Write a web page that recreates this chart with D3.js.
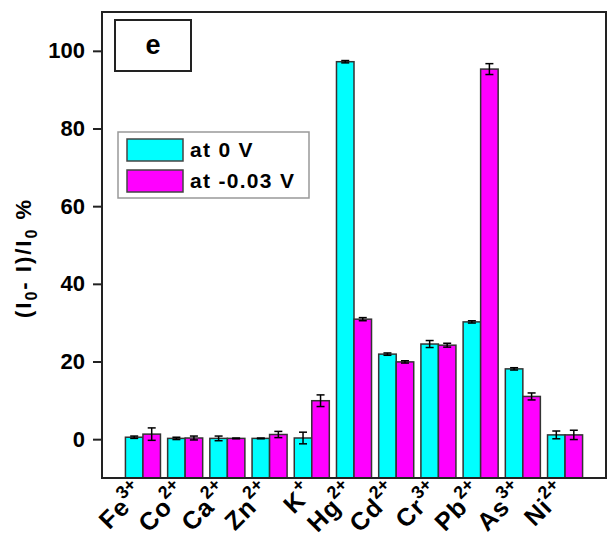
<!DOCTYPE html>
<html>
<head>
<meta charset="utf-8">
<script src="https://cdn.jsdelivr.net/npm/d3@7"></script>
<style>
  body { margin: 0; background: #fff; }
  svg { font-family: "Liberation Sans", Arial, sans-serif; font-weight: bold; }
</style>
</head>
<body>
<svg width="609" height="540"></svg>
<script>
// ions on the x axis and their charges (drawn as superscripts)
var ions = ['Fe', 'Co', 'Ca', 'Zn', 'K', 'Hg', 'Cd', 'Cr', 'Pb', 'As', 'Ni'];
var charges = ['3+', '2+', '2+', '2+', '+', '2+', '2+', '3+', '2+', '3+', '2+'];
// (I0 - I)/I0 %
var at0V = [0.5, 0.2, 0.2, 0.2, 0.3, 97.2, 21.9, 24.5, 30.2, 18.1, 1.1];
var err0V = [0.3, 0.3, 0.6, 0.1, 1.5, 0.3, 0.3, 0.9, 0.3, 0.3, 1.0];
var atNeg = [1.3, 0.3, 0.2, 1.2, 9.9, 30.9, 19.9, 24.2, 95.3, 11.0, 1.1];
var errNeg = [1.6, 0.5, 0.1, 0.8, 1.5, 0.4, 0.3, 0.5, 1.4, 0.9, 1.2];
var seriesNames = ['at 0 V', 'at -0.03 V'];
var seriesColors = ['#00ffff', '#ff00ff'];
var yTicks = [0, 20, 40, 60, 80, 100];

var svg = d3.select('svg');
var plotL = 102, plotR = 606, plotT = 12, plotB = 478;

var x = d3.scaleBand().domain(ions).range([plotL, plotR])
  .paddingInner(0.17).paddingOuter(0.555);
var x1 = d3.scaleBand().domain([0, 1]).range([0, x.bandwidth()]);
var y = d3.scaleLinear().domain([-10, 110]).range([plotB, plotT]);

var rows = ions.map(function(ion, i) {
  return {ion: ion, vals: [
    {s: 0, v: at0V[i], e: err0V[i]},
    {s: 1, v: atNeg[i], e: errNeg[i]}
  ]};
});

// bars
var groups = svg.append('g').selectAll('g').data(rows).enter().append('g')
  .attr('transform', d => 'translate(' + x(d.ion) + ',0)');
groups.selectAll('rect').data(d => d.vals).enter().append('rect')
  .attr('x', d => x1(d.s))
  .attr('width', x1.bandwidth())
  .attr('y', d => y(d.v))
  .attr('height', d => y(-10) - y(d.v))
  .attr('fill', d => seriesColors[d.s])
  .attr('stroke', '#333')
  .attr('stroke-width', 1.5);

// error bars
var eb = groups.selectAll('g.err').data(d => d.vals).enter().append('g').attr('class', 'err')
  .attr('stroke', '#000').attr('stroke-width', 1.5);
var midX = d => x1(d.s) + x1.bandwidth() / 2;
eb.append('line')
  .attr('x1', midX).attr('x2', midX)
  .attr('y1', d => y(d.v - d.e)).attr('y2', d => y(d.v + d.e));
eb.append('line')
  .attr('x1', d => midX(d) - 4).attr('x2', d => midX(d) + 4)
  .attr('y1', d => y(d.v + d.e)).attr('y2', d => y(d.v + d.e));
eb.append('line')
  .attr('x1', d => midX(d) - 4).attr('x2', d => midX(d) + 4)
  .attr('y1', d => y(d.v - d.e)).attr('y2', d => y(d.v - d.e));

// frame
svg.append('rect')
  .attr('x', plotL).attr('y', plotT).attr('width', plotR - plotL).attr('height', plotB - plotT)
  .attr('fill', 'none').attr('stroke', '#222').attr('stroke-width', 2);

// y axis
var yAxis = svg.append('g').attr('transform', 'translate(' + plotL + ',0)')
  .call(d3.axisLeft(y).tickValues(yTicks).tickSize(9).tickPadding(8));
yAxis.select('.domain').remove();
yAxis.selectAll('line').attr('stroke', '#222').attr('stroke-width', 2);
yAxis.selectAll('text').attr('font-size', 22).attr('font-weight', 'bold')
  .attr('font-family', '"Liberation Sans", Arial, sans-serif').attr('fill', '#000');

// x labels, rotated -45
var xl = svg.append('g').selectAll('text').data(ions).enter().append('text')
  .attr('transform', d => 'translate(' + (x(d) + x.bandwidth() / 2 + 3) + ',' + (plotB + 16) + ') rotate(-45)')
  .attr('text-anchor', 'end')
  .attr('font-size', 25);
xl.append('tspan').attr('letter-spacing', 1).text(d => d);
xl.append('tspan').attr('dy', -12).attr('font-size', 18).text((d, i) => charges[i]);

// y label
var yl = svg.append('text')
  .attr('transform', 'translate(31,258) rotate(-90)')
  .attr('text-anchor', 'middle').attr('font-size', 22).attr('letter-spacing', 2);
yl.append('tspan').text('(I');
yl.append('tspan').attr('dy', 6).attr('font-size', 16).text('0');
yl.append('tspan').attr('dy', -6).text('- I)/I');
yl.append('tspan').attr('dy', 6).attr('font-size', 16).text('0');
yl.append('tspan').attr('dy', -6).text(' %');

// panel letter
svg.append('rect').attr('x', 115).attr('y', 20).attr('width', 76).attr('height', 51)
  .attr('fill', '#fff').attr('stroke', '#222').attr('stroke-width', 2);
svg.append('text').attr('x', 153).attr('y', 54).attr('text-anchor', 'middle')
  .attr('font-size', 27).text('e');

// legend
var lg = svg.append('g');
lg.append('rect').attr('x', 118).attr('y', 132).attr('width', 191).attr('height', 66)
  .attr('fill', '#fff').attr('stroke', '#999').attr('stroke-width', 1.5);
var items = lg.selectAll('g').data(seriesNames).enter().append('g')
  .attr('transform', (d, i) => 'translate(127,' + (139 + i * 31) + ')');
items.append('rect').attr('width', 56).attr('height', 22)
  .attr('fill', (d, i) => seriesColors[i]).attr('stroke', '#444').attr('stroke-width', 1.5);
items.append('text').attr('x', 63).attr('y', 18).attr('font-size', 21)
  .attr('letter-spacing', 1.3).text(d => d);
</script>
</body>
</html>
